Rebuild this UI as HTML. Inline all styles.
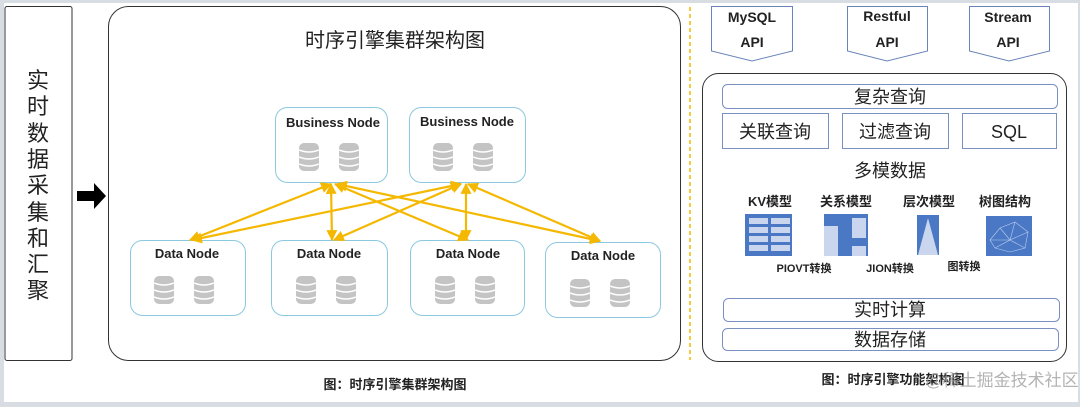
<!DOCTYPE html>
<html><head><meta charset="utf-8"><style>
html,body{margin:0;padding:0;background:#d8dde4}
svg{display:block}
text{font-family:"Liberation Sans","Noto Sans CJK SC",sans-serif}
</style></head><body>
<svg width="1080" height="407" viewBox="0 0 1080 407" xmlns="http://www.w3.org/2000/svg">
<defs>
<symbol id="db" viewBox="0 0 20 28">
<rect x="0" y="0" width="20" height="28" rx="5" fill="#c4c4c4"/>
<path d="M0 7 Q10 11 20 7 M0 14 Q10 18 20 14 M0 21 Q10 25 20 21" stroke="#fff" stroke-width="1.5" fill="none"/>
</symbol>
<marker id="ah" viewBox="0 0 10 10" refX="9" refY="5" markerWidth="5" markerHeight="5" orient="auto-start-reverse">
<path d="M0 0 L10 5 L0 10 z" fill="#f5b800"/>
</marker>
</defs>
<rect x="4" y="3" width="1074" height="399" fill="#fff"/>
<!-- left box -->
<rect x="5" y="6.5" width="67" height="354" rx="2" fill="#fff" stroke="#333" stroke-width="1"/>
<g font-size="22" fill="#222" text-anchor="middle">
<text x="38" y="88">实</text><text x="38" y="114">时</text><text x="38" y="141">数</text><text x="38" y="167">据</text><text x="38" y="193">采</text><text x="38" y="220">集</text><text x="38" y="246">和</text><text x="38" y="272">汇</text><text x="38" y="298">聚</text>
</g>
<path d="M77 191 L94 191 L94 183 L106 196 L94 209 L94 201 L77 201 z" fill="#000"/>
<!-- main box -->
<rect x="108.5" y="6.5" width="572" height="354" rx="20" fill="#fff" stroke="#333" stroke-width="1"/>
<text x="395" y="47" font-size="20" text-anchor="middle" fill="#222">时序引擎集群架构图</text>
<g fill="#fff" stroke="#8cc8e0" stroke-width="1">
<rect x="275.5" y="107.5" width="112" height="75" rx="12"/>
<rect x="409.5" y="107.5" width="116" height="75" rx="12"/>
<rect x="130.5" y="240.5" width="115" height="75" rx="12"/>
<rect x="271.5" y="240.5" width="116" height="75" rx="12"/>
<rect x="410.5" y="240.5" width="114" height="75" rx="12"/>
<rect x="545.5" y="242.5" width="115" height="75" rx="12"/>
</g>
<g font-size="13" font-weight="bold" fill="#222" text-anchor="middle">
<text x="333" y="127">Business Node</text>
<text x="467" y="126">Business Node</text>
<text x="187" y="258">Data Node</text>
<text x="329" y="258">Data Node</text>
<text x="468" y="258">Data Node</text>
<text x="603" y="260">Data Node</text>
</g>
<g>
<use href="#db" x="299" y="143" width="20" height="28"/><use href="#db" x="339" y="143" width="20" height="28"/>
<use href="#db" x="433" y="143" width="20" height="28"/><use href="#db" x="473" y="143" width="20" height="28"/>
<use href="#db" x="154" y="276" width="20" height="28"/><use href="#db" x="194" y="276" width="20" height="28"/>
<use href="#db" x="296" y="276" width="20" height="28"/><use href="#db" x="336" y="276" width="20" height="28"/>
<use href="#db" x="435" y="276" width="20" height="28"/><use href="#db" x="475" y="276" width="20" height="28"/>
<use href="#db" x="570" y="279" width="20" height="28"/><use href="#db" x="610" y="279" width="20" height="28"/>
</g>
<g stroke="#f5b800" stroke-width="2.2" fill="none" marker-start="url(#ah)" marker-end="url(#ah)">
<line x1="331" y1="184" x2="190" y2="240"/>
<line x1="331" y1="184" x2="332" y2="240"/>
<line x1="335" y1="184" x2="468" y2="240"/>
<line x1="337" y1="184" x2="600" y2="241"/>
<line x1="461" y1="184" x2="192" y2="240"/>
<line x1="461" y1="184" x2="334" y2="240"/>
<line x1="466" y1="184" x2="466" y2="240"/>
<line x1="468" y1="184" x2="600" y2="241"/>
</g>
<text x="395" y="389" font-size="13" font-weight="bold" text-anchor="middle" fill="#222">图：时序引擎集群架构图</text>
<!-- divider -->
<line x1="690" y1="7" x2="690" y2="360" stroke="#f5b800" stroke-width="1.5" stroke-dasharray="4,3"/>
<!-- API -->
<g fill="#fff" stroke="#6a84b8" stroke-width="1">
<path d="M711.5 6.5 H792.5 V51 L752 61 L711.5 51 z"/>
<path d="M847.5 6.5 H927.5 V51 L887 61 L847.5 51 z"/>
<path d="M969.5 6.5 H1049.5 V51 L1009 61 L969.5 51 z"/>
</g>
<g font-size="14" font-weight="bold" text-anchor="middle" fill="#222">
<text x="752" y="22">MySQL</text><text x="752" y="47">API</text>
<text x="887" y="21">Restful</text><text x="887" y="47">API</text>
<text x="1008" y="22">Stream</text><text x="1008" y="47">API</text>
</g>
<rect x="702.5" y="73.5" width="364" height="288" rx="16" fill="#fff" stroke="#333" stroke-width="1"/>
<g fill="#fff" stroke="#7a90c0" stroke-width="1">
<rect x="722.5" y="84.5" width="335" height="24" rx="5"/>
<rect x="722.5" y="113.5" width="106" height="35"/>
<rect x="842.5" y="113.5" width="106" height="35"/>
<rect x="962.5" y="113.5" width="94" height="35"/>
<rect x="723.5" y="298.5" width="336" height="23" rx="5"/>
<rect x="722.5" y="328.5" width="336" height="22" rx="5"/>
</g>
<g font-size="18" text-anchor="middle" fill="#222">
<text x="890" y="103">复杂查询</text>
<text x="775" y="138">关联查询</text>
<text x="895" y="138">过滤查询</text>
<text x="1009" y="138">SQL</text>
<text x="890" y="177">多模数据</text>
<text x="890" y="316">实时计算</text>
<text x="890" y="346">数据存储</text>
</g>
<g font-size="13" font-weight="bold" text-anchor="middle" fill="#222">
<text x="770" y="206">KV模型</text><text x="846" y="206">关系模型</text><text x="929" y="206">层次模型</text><text x="1005" y="206">树图结构</text>
</g>
<g font-size="11" font-weight="bold" text-anchor="middle" fill="#222">
<text x="804" y="272">PIOVT转换</text><text x="890" y="272">JION转换</text><text x="964" y="270">图转换</text>
</g>
<!-- icons -->
<rect x="745" y="214" width="47" height="42" fill="#4a78c4"/>
<g fill="#c9d6ee"><rect x="749" y="218" width="19" height="6"/><rect x="771" y="218" width="19" height="6"/><rect x="749" y="227" width="19" height="6"/><rect x="771" y="227" width="19" height="6"/><rect x="749" y="236" width="19" height="6"/><rect x="771" y="236" width="19" height="6"/><rect x="749" y="245" width="19" height="6"/><rect x="771" y="245" width="19" height="6"/></g>
<rect x="824" y="214" width="44" height="42" fill="#4a78c4"/>
<rect x="824" y="226" width="14" height="30" fill="#c9d6ee"/><rect x="852" y="218" width="14" height="20" fill="#c9d6ee"/><rect x="852" y="246" width="14" height="10" fill="#c9d6ee"/>
<rect x="917" y="215" width="22" height="40" fill="#4a78c4"/>
<path d="M928 218 L938 255 L918 255 z" fill="#c9d6ee"/>
<rect x="986" y="216" width="46" height="40" fill="#4a78c4"/>
<g stroke="#b8cdf0" stroke-width="0.6" fill="none"><path d="M990 240 L1000 228 L1015 222 L1028 232 L1025 248 L1010 252 L995 248 Z M1000 228 L1010 240 L1025 248 M1015 222 L1010 240 L995 248 M990 240 L1010 240 L1028 232"/></g>
<g font-size="13" font-weight="bold" text-anchor="middle" fill="#222">
<text x="893" y="384">图：时序引擎功能架构图</text>
</g>
<text x="1002" y="386" font-size="17" text-anchor="middle" fill="#9a9a9a" opacity="0.75">@稀土掘金技术社区</text>
</svg>
</body></html>
